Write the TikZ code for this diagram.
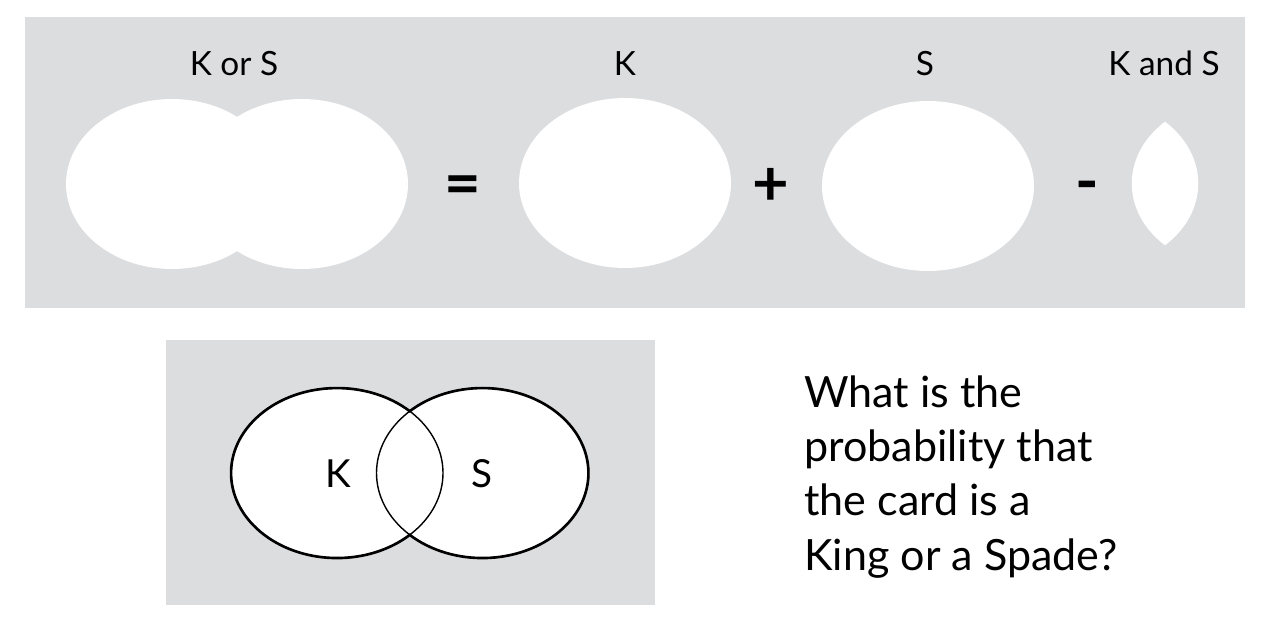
\documentclass[tikz,border=0pt]{standalone}
\usepackage{fontspec}
\setmainfont{Lato}
\usetikzlibrary{positioning}
\definecolor{panelgray}{RGB}{220,221,223}
\tikzset{
  panel/.style={fill=panelgray, draw=none},
  blob/.style={fill=white, draw=none},
  lbl/.style={font=\fontsize{19}{23}\selectfont, anchor=base},
  op/.style={font=\fontsize{36}{40}\selectfont\bfseries},
  vlbl/.style={font=\fontsize{22}{26}\selectfont},
  qtext/.style={font=\fontsize{24.5}{30.8}\selectfont, align=left, inner sep=0pt},
  venn/.style={line width=0.8pt},
  vennout/.style={line width=1.5pt},
}
\begin{document}
\begin{tikzpicture}[x=0.02cm,y=-0.02cm]
  \useasboundingbox (0,0) rectangle (1275,635);
  % top strip: K or S = K + S - K and S
  \fill[panel] (25,17) rectangle (1245,308);
  \fill[blob] (172,184) ellipse (106 and 85) (302,184) ellipse (106 and 85);
  \fill[blob] (625,183) ellipse (106 and 85);
  \fill[blob] (928,186) ellipse (106 and 85);
  \begin{scope}
    \clip (1092.25,183.5) ellipse (106 and 85);
    \fill[blob] (1237.75,183.5) ellipse (106 and 85);
  \end{scope}
  \node[lbl] (korS) at (234,76) {K or S};
  \node[lbl] (kTop) at (625,76) {K};
  \node[lbl] (sTop) at (925,76) {S};
  \node[lbl] (kandS) at (1164,76) {K and S};
  \node[op] (eq) at (463,191) {=};
  \node[op] (plus) at (771,187) {+};
  \node[op] (minus) at (1087,192) {-};
  % bottom: venn diagram
  \fill[panel] (166,340) rectangle (655,605);
  \fill[blob] (337,473) ellipse (106 and 85) (482.5,473) ellipse (106 and 85);
  \draw[venn] (337,473) ellipse (106 and 85) (482.5,473) ellipse (106 and 85);
  \draw[vennout] (409.75,411.2)
    arc[start angle=-46.7, end angle=-313.3, x radius=106, y radius=85]
    arc[start angle=133.3, end angle=-133.3, x radius=106, y radius=85] -- cycle;
  \node[vlbl] (kSet) at (338,474) {K};
  \node[vlbl] (sSet) at (482,474) {S};
  \node[qtext, anchor=base west] (question) at (804,570)
    {What is the\\probability that\\the card is a\\King or a Spade?};
\end{tikzpicture}
\end{document}
